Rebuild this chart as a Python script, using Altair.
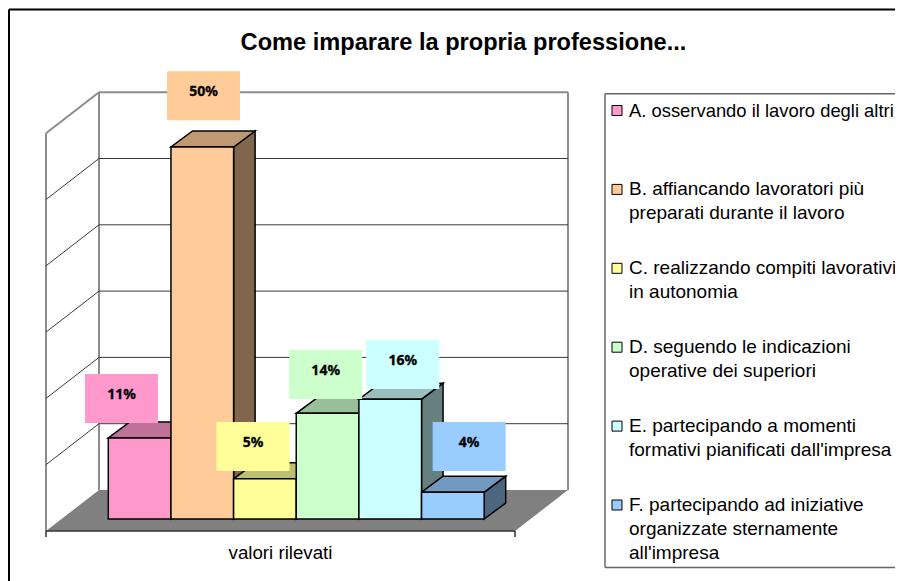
import altair as alt
import pandas as pd

# ---- values
TITLE = "Come imparare la propria professione..."
AXIS_LABEL = "valori rilevati"
bar_values = [10.9, 50.0, 5.4, 14.2, 16.1, 3.6]
bar_labels = ["11%", "50%", "5%", "14%", "16%", "4%"]
bar_colors = ["#FF99CC", "#FFCC99", "#FFFF99", "#CCFFCC", "#CCFFFF", "#99CCFF"]
legend_lines = [
    ["A. osservando il lavoro degli altri"],
    ["B. affiancando lavoratori più", "preparati durante il lavoro"],
    ["C. realizzando compiti lavorativi", "in autonomia"],
    ["D. seguendo le indicazioni", "operative dei superiori"],
    ["E. partecipando a momenti", "formativi pianificati dall'impresa"],
    ["F. partecipando ad iniziative", "organizzate sternamente", "all'impresa"],
]
# label boxes were hand-placed in the original: offset of the box centre
# from the bar's front top-left corner (slots, value units)
label_dx = [0.21, 0.52, 0.31, 0.47, 0.70, 0.76]
label_dy = [5.3, 6.9, 4.34, 5.22, 4.67, 6.14]

# ---- layout
W, H = 887, 573
PAGE = 8
SLOT = 62.65
UNIT = 7.44
X0 = 108.3
Y0 = 519.0
def ux(px):
    return (px - X0) / SLOT
def uy(py):
    return (Y0 - py) / UNIT
X_DOM = [ux(PAGE), ux(PAGE + W)]
Y_DOM = [uy(PAGE), uy(PAGE + H)]

BAR_DX = 21.5 / SLOT
BAR_DY = 16.0 / UNIT
WALL_DX = 53.0 / SLOT
WALL_DY = 41.0 / UNIT
FRONT_L = ux(46)
FRONT_R = ux(515)
FRONT_V = uy(531)
GRID = 66.3 / UNIT
BOX_W = 73 / SLOT
BOX_H = 49 / UNIT

def shade(c, k):
    return "#" + "".join(f"{int(int(c[i:i+2], 16) * k):02X}" for i in (1, 3, 5))

x_s = alt.Scale(domain=X_DOM, range=[0, W], nice=False, zero=False)
y_s = alt.Scale(domain=Y_DOM, range=[0, H], nice=False, zero=False)
X = lambda f="x": alt.X(f"{f}:Q", scale=x_s, axis=None, stack=False)
Y = lambda f="y": alt.Y(f"{f}:Q", scale=y_s, axis=None, stack=False)
X2 = alt.X2("x2:Q")
Y2 = alt.Y2("y2:Q")
FILL = alt.Color("c:N", scale=None, legend=None)

def rules(rows, color, width):
    return alt.Chart(pd.DataFrame(rows, columns=["x", "y", "x2", "y2"])).mark_rule(
        color=color, strokeWidth=width
    ).encode(x=X(), y=Y(), x2=X2, y2=Y2)

# walls and gridlines
wall_top = FRONT_V + 6 * GRID
dark = []
for k in range(1, 6):
    v = FRONT_V + k * GRID
    dark.append([FRONT_L, v, FRONT_L + WALL_DX, v + WALL_DY])
    dark.append([FRONT_L + WALL_DX, v + WALL_DY, FRONT_R + WALL_DX, v + WALL_DY])
grey = [
    [FRONT_L, FRONT_V, FRONT_L, wall_top],
    [FRONT_L, wall_top, FRONT_L + WALL_DX, wall_top + WALL_DY],
    [FRONT_L + WALL_DX, wall_top + WALL_DY, FRONT_R + WALL_DX, wall_top + WALL_DY],
    [FRONT_L + WALL_DX, FRONT_V + WALL_DY, FRONT_L + WALL_DX, wall_top + WALL_DY],
    [FRONT_R + WALL_DX, FRONT_V + WALL_DY, FRONT_R + WALL_DX, wall_top + WALL_DY],
]
floor = pd.DataFrame([
    {"y": FRONT_V, "x": FRONT_L, "x2": FRONT_R},
    {"y": FRONT_V + WALL_DY, "x": FRONT_L + WALL_DX, "x2": FRONT_R + WALL_DX},
])
floor_layer = alt.Chart(floor).mark_area(orient="horizontal", color="#808080").encode(
    y=Y(), x=X(), x2=X2
)
axis_rows = [
    [FRONT_L, FRONT_V, FRONT_R, FRONT_V],
    [FRONT_L, FRONT_V, FRONT_L, FRONT_V - 6 / UNIT],
    [FRONT_R, FRONT_V, FRONT_R, FRONT_V - 6 / UNIT],
]

# bars
front, side, top, boxes = [], [], [], []
for i, (v, c, lab) in enumerate(zip(bar_values, bar_colors, bar_labels)):
    front.append({"x": i, "x2": i + 1, "y": 0, "y2": v, "c": c})
    side += [
        {"b": i, "x": i + 1, "y": 0, "y2": v, "c": shade(c, 0.5)},
        {"b": i, "x": i + 1 + BAR_DX, "y": BAR_DY, "y2": v + BAR_DY, "c": shade(c, 0.5)},
    ]
    top += [
        {"b": i, "y": v, "x": i, "x2": i + 1, "c": shade(c, 0.75)},
        {"b": i, "y": v + BAR_DY, "x": i + BAR_DX, "x2": i + 1 + BAR_DX, "c": shade(c, 0.75)},
    ]
    cx, cy = i + label_dx[i], v + label_dy[i]
    boxes.append({
        "x": cx - BOX_W / 2, "x2": cx + BOX_W / 2,
        "y": cy - BOX_H / 2, "y2": cy + BOX_H / 2,
        "cx": cx, "cy": cy + 0.5, "c": c, "t": lab,
    })
BAR_STROKE = dict(stroke="#000000", strokeWidth=1.5)
side_layer = alt.Chart(pd.DataFrame(side)).mark_area(orient="vertical", **BAR_STROKE).encode(
    x=X(), y=Y(), y2=Y2, color=FILL, detail="b:N"
)
top_layer = alt.Chart(pd.DataFrame(top)).mark_area(orient="horizontal", **BAR_STROKE).encode(
    y=Y(), x=X(), x2=X2, color=FILL, detail="b:N"
)
front_layer = alt.Chart(pd.DataFrame(front)).mark_rect(**BAR_STROKE).encode(
    x=X(), x2=X2, y=Y(), y2=Y2, color=FILL
)
box_df = pd.DataFrame(boxes)
box_layer = alt.Chart(box_df).mark_rect().encode(x=X(), x2=X2, y=Y(), y2=Y2, color=FILL)
box_text = alt.Chart(box_df).mark_text(
    font="Noto Sans", fontWeight="bold", fontSize=14, color="#000000", stroke="#000000",
    strokeWidth=0.3, baseline="middle", align="center"
).encode(x=X("cx"), y=Y("cy"), text="t:N")

# legend
LEG_LEFT, LEG_TOP, LEG_BOTTOM = ux(605), uy(93.7), uy(567.4)
legend_frame = [
    [LEG_LEFT, LEG_TOP, X_DOM[1], LEG_TOP],
    [LEG_LEFT, LEG_BOTTOM, X_DOM[1], LEG_BOTTOM],
    [LEG_LEFT, LEG_TOP, LEG_LEFT, LEG_BOTTOM],
]
sw, lt = [], []
for i, (lines, c) in enumerate(zip(legend_lines, bar_colors)):
    py = 110.5 + i * 78.9
    sw.append({"x": ux(612), "x2": ux(622), "y": uy(py - 5), "y2": uy(py + 5), "c": c})
    for j, line in enumerate(lines):
        # the first line must fit before the picture's right edge
        lt.append({"x": ux(629), "y": uy(py + j * 23.8), "t": line, "fs": 18.4 if i == 0 else 19})
sw_layer = alt.Chart(pd.DataFrame(sw)).mark_rect(stroke="#000000", strokeWidth=1).encode(
    x=X(), x2=X2, y=Y(), y2=Y2, color=FILL
)
TXT = dict(font="Liberation Sans", color="#000000", baseline="middle")
lt_layer = alt.Chart(pd.DataFrame(lt)).mark_text(align="left", **TXT).encode(
    x=X(), y=Y(), text="t:N", size=alt.Size("fs:Q", scale=None, legend=None)
)
axis_label = alt.Chart(pd.DataFrame([{"x": ux(280.5), "y": uy(553), "t": AXIS_LABEL}])).mark_text(
    align="center", fontSize=18.7, **TXT
).encode(x=X(), y=Y(), text="t:N")

# outer frame, running off the right and bottom of the picture
outer = [
    [ux(9), uy(9.5), X_DOM[1], uy(9.5)],
    [ux(9), uy(9.5), ux(9), Y_DOM[1]],
]

chart = alt.layer(
    rules(outer, "#000000", 2),
    rules(grey, "#8C8C8C", 2),
    rules(dark, "#3A3A3A", 1),
    floor_layer,
    rules(axis_rows, "#333333", 1.5),
    side_layer,
    top_layer,
    front_layer,
    box_layer,
    box_text,
    rules(legend_frame, "#666666", 1.5),
    sw_layer,
    lt_layer,
    axis_label,
).properties(
    width=W,
    height=H,
    padding=0,
    autosize=alt.AutoSizeParams(type="none"),
    title=alt.TitleParams(
        TITLE, font="Liberation Sans", fontSize=23.6, fontWeight="bold", color="#000000",
        anchor="start", align="center", baseline="middle", dx=455.5, dy=59, offset=0,
    ),
).configure_view(stroke=None)

chart.save("out.html", embed_options={"renderer": "svg", "actions": False})
